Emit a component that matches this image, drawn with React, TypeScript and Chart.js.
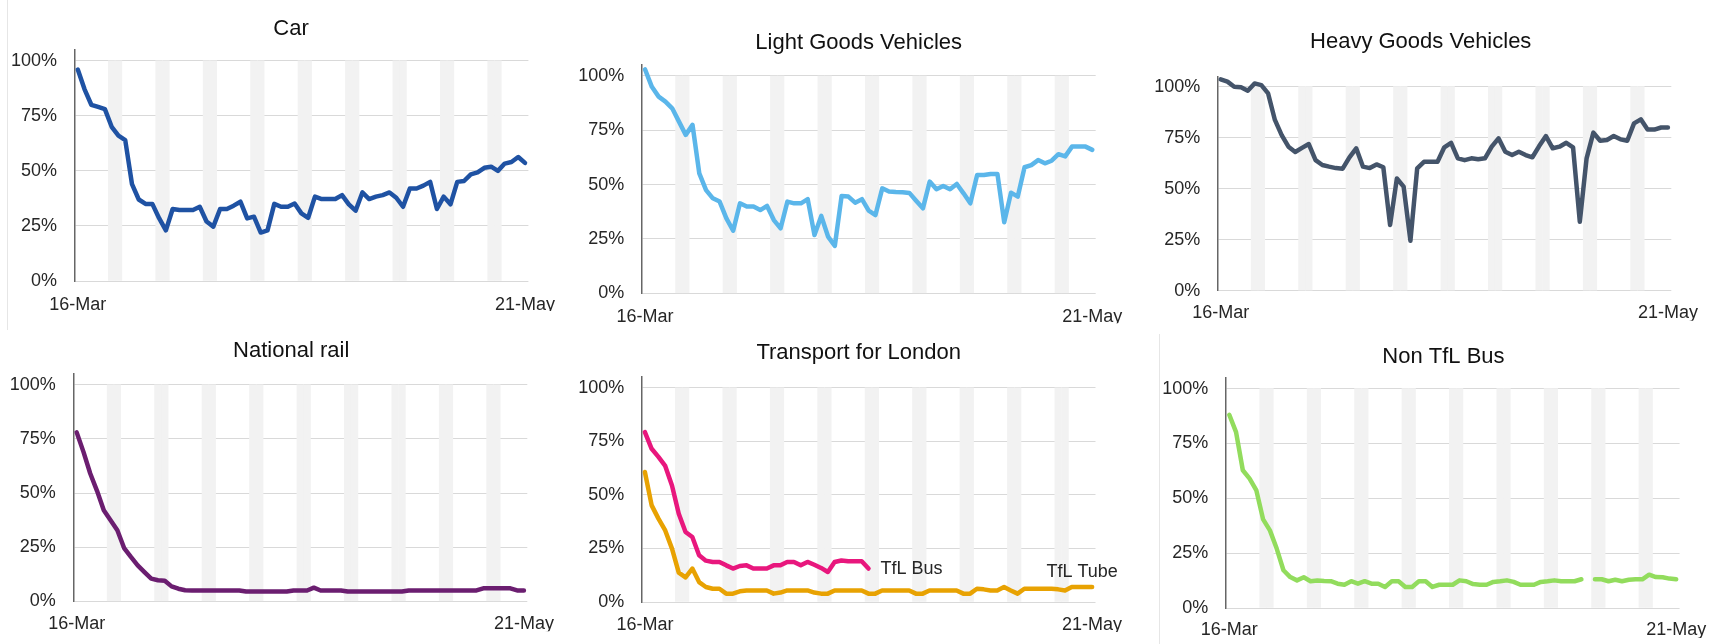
import { useEffect, useRef } from 'react';
import { Chart, registerables } from 'chart.js';

Chart.register(...registerables);

const FONT = '"Liberation Sans", Arial, Helvetica, sans-serif';
const TITLE_FS = 22;
const TICK_FS = 18;

const DATES = [
  '16-Mar', '17-Mar', '18-Mar', '19-Mar', '20-Mar', '21-Mar', '22-Mar', '23-Mar', '24-Mar', '25-Mar',
  '26-Mar', '27-Mar', '28-Mar', '29-Mar', '30-Mar', '31-Mar',
  '1-Apr', '2-Apr', '3-Apr', '4-Apr', '5-Apr', '6-Apr', '7-Apr', '8-Apr', '9-Apr', '10-Apr',
  '11-Apr', '12-Apr', '13-Apr', '14-Apr', '15-Apr', '16-Apr', '17-Apr', '18-Apr', '19-Apr', '20-Apr',
  '21-Apr', '22-Apr', '23-Apr', '24-Apr', '25-Apr', '26-Apr', '27-Apr', '28-Apr', '29-Apr', '30-Apr',
  '1-May', '2-May', '3-May', '4-May', '5-May', '6-May', '7-May', '8-May', '9-May', '10-May',
  '11-May', '12-May', '13-May', '14-May', '15-May', '16-May', '17-May', '18-May', '19-May', '20-May',
  '21-May',
];

const Y_TICKS = [0, 25, 50, 75, 100];

// 1 = Saturday / Sunday (shaded band)
const WEEKEND = [
  0, 0, 0, 0, 0, 1, 1,
  0, 0, 0, 0, 0, 1, 1,
  0, 0, 0, 0, 0, 1, 1,
  0, 0, 0, 0, 0, 1, 1,
  0, 0, 0, 0, 0, 1, 1,
  0, 0, 0, 0, 0, 1, 1,
  0, 0, 0, 0, 0, 1, 1,
  0, 0, 0, 0, 0, 1, 1,
  0, 0, 0, 0, 0, 1, 1,
  0, 0, 0, 0,
];
const BAND_TOP = 100;

const CAR = [96, 87, 80, 79, 78, 70, 66, 64, 44, 37, 35, 35, 28.5, 23, 32.7, 32.2, 32.2, 32.2, 33.7, 27,
  24.7, 32.7, 32.7, 34.2, 36, 28.4, 29.2, 22, 23, 35, 33.7, 33.7, 35.2, 30.7, 28.7, 38.3, 37.2, 37.2, 37.2, 39,
  34.8, 31.9, 40.2, 37.2, 38.3, 39, 40.2, 37.8, 33.7, 42, 42, 43.3, 45, 32.7, 38.3, 34.8, 45, 45.4, 48.4, 49.3,
  51.4, 51.9, 50, 53.3, 54, 56.3, 53.6];

const LGV = [103, 95, 90.5, 88.2, 85.1, 79, 72.9, 77.5, 55.2, 47.5, 43.7, 42.2, 34.5, 28.8, 41.4, 39.9, 39.9, 38.3, 40.2, 33.7,
  29.9, 42.2, 41.4, 41.4, 43.3, 26.8, 35.6, 26.1, 21.8, 44.8, 44.5, 41.7, 43.3, 38, 36, 48.3, 46.8, 46.6, 46.5, 46.2,
  42.6, 39.1, 51.4, 47.9, 49.4, 47.9, 50.3, 46, 41.4, 54.4, 54.4, 54.9, 54.9, 32.7, 46.3, 44.5, 58, 59, 61.3, 59.8,
  61, 64, 63, 67.5, 67.5, 67.5, 66];

const HGV = [103.6, 102.5, 100, 99.7, 98, 101.6, 100.8, 96.7, 83.7, 76.3, 70.6, 68, 70, 71.9, 64, 61.6, 60.8, 60.1, 59.8, 65.4,
  69.8, 60.8, 60.1, 61.9, 60.5, 32.2, 55, 51, 24.5, 60, 63.2, 63.2, 63.2, 70.3, 72.5, 64.9, 64, 64.9, 64.4, 64.9,
  70.6, 74.7, 68.1, 66.5, 68.1, 66.5, 65.4, 70.9, 75.8, 69.8, 70.6, 72.5, 70.3, 33.8, 64.9, 77.5, 73.5, 73.9, 75.8, 74.2,
  73.5, 82, 84, 79, 79, 80, 80];

const RAIL = [78, 69, 59, 51, 42, 37.4, 32.8, 24.6, 20.5, 16.6, 13.5, 10.5, 9.7, 9.5, 6.9, 5.8, 5.1, 5, 5, 5,
  5, 5, 5, 5, 5, 4.5, 4.5, 4.5, 4.5, 4.5, 4.5, 4.5, 5, 5, 5, 6.3, 5, 5, 5, 5,
  4.5, 4.5, 4.5, 4.5, 4.5, 4.5, 4.5, 4.5, 4.5, 5, 5, 5, 5, 5, 5, 5, 5, 5, 5, 5,
  6, 6, 6, 6, 6, 5, 5];

const TFL_BUS = [79.3, 71.5, 67.7, 63.5, 54.4, 41.2, 32.7, 30.3, 21.8, 19.3, 18.7, 18.7, 17.1, 15.6, 16.8, 17.1, 15.6, 15.6, 15.6, 17.1,
  17.1, 18.7, 18.7, 17.1, 18.7, 17.4, 15.9, 14, 18.7, 19.4, 19, 19, 19, 15.6,
  null, null, null, null, null, null, null, null, null, null, null, null, null, null, null, null, null, null, null, null,
  null, null, null, null, null, null, null, null, null, null, null, null, null];

const TFL_TUBE = [60.7, 45.1, 38.9, 33.4, 24.9, 13.7, 11.5, 15.6, 9.3, 7, 6.2, 6.2, 3.9, 3.9, 5, 5.4, 5.4, 5.4, 5.4, 3.9,
  4.4, 5.4, 5.4, 5.4, 5.4, 4.4, 3.9, 3.9, 5.4, 5.4, 5.4, 5.4, 5.4, 3.9, 3.9, 5.4, 5.4, 5.4, 5.4, 5.4,
  3.9, 3.9, 5.4, 5.4, 5.4, 5.4, 5.4, 3.9, 3.9, 6.2, 5.9, 5.4, 5.4, 7, 5.4, 3.9, 6.2, 6.2, 6.2, 6.2,
  6.2, 5.9, 5.4, 7, 7, 7, 7];

const NON_TFL_BUS = [88.1, 80.2, 62.8, 59, 53.6, 40.4, 35.4, 27.1, 17.2, 14.1, 12.6, 14, 12.2, 12.5, 12.3, 12.2, 11.1, 10.6, 12.2, 11.1,
  12.2, 11.1, 11.1, 9.6, 12.2, 12.2, 9.6, 9.6, 12.2, 12.2, 9.6, 10.6, 10.6, 10.6, 12.6, 12.2, 10.9, 10.6, 10.6, 11.9,
  12.2, 12.6, 11.9, 10.6, 10.6, 10.6, 11.9, 12.2, 12.6, 12.2, 12.2, 12.2, 13.1, null, 13.1, 13.1, 12.2, 12.9, 12.2, 12.9,
  13.1, 13.1, 15.2, 14.1, 14, 13.4, 13.1];

type EndLabel = { text: string; dx: number; dy: number; align: CanvasTextAlign };
type LineSpec = { label: string; data: (number | null)[]; color: string; endLabel?: EndLabel };
type PanelSpec = {
  title: string;
  lines: LineSpec[];
  px: number; py: number; W: number; H: number;
  L: number; R: number; T: number; B: number;
  tx: number; ty: number; xly: number; ylr: number;
};

const PANELS: PanelSpec[] = [
  {
    title: 'Car', lines: [{ label: 'Car', data: CAR, color: '#1f52a3' }],
    px: 0, py: 0, W: 573, H: 340,
    L: 74.4, R: 528.4, T: 49.7, B: 281, tx: 291, ty: 29, xly: 305, ylr: 57,
  },
  {
    title: 'Light Goods Vehicles', lines: [{ label: 'Light Goods Vehicles', data: LGV, color: '#5bb6ea' }],
    px: 573, py: 0, W: 573, H: 340,
    L: 641.7, R: 1095.7, T: 65.1, B: 293.3, tx: 858.7, ty: 43.3, xly: 317, ylr: 624.3,
  },
  {
    title: 'Heavy Goods Vehicles', lines: [{ label: 'Heavy Goods Vehicles', data: HGV, color: '#44546a' }],
    px: 1146, py: 0, W: 572, H: 340,
    L: 1217.3, R: 1671.3, T: 76.5, B: 290.7, tx: 1420.7, ty: 41.7, xly: 313, ylr: 1200.2,
  },
  {
    title: 'National rail', lines: [{ label: 'National rail', data: RAIL, color: '#6b1e70' }],
    px: 0, py: 322, W: 573, H: 322,
    L: 73.3, R: 527.3, T: 373.9, B: 601.3, tx: 291.2, ty: 351.3, xly: 623.7, ylr: 55.7,
  },
  {
    title: 'Transport for London',
    lines: [
      { label: 'TfL Bus', data: TFL_BUS, color: '#e8177d', endLabel: { text: 'TfL Bus', dx: 12, dy: 0, align: 'left' } },
      { label: 'TfL Tube', data: TFL_TUBE, color: '#e8a202', endLabel: { text: 'TfL Tube', dx: -10, dy: -15, align: 'center' } },
    ],
    px: 573, py: 322, W: 573, H: 322,
    L: 641.5, R: 1095.5, T: 377, B: 602, tx: 858.7, ty: 352.7, xly: 625.3, ylr: 624.3,
  },
  {
    title: 'Non TfL Bus', lines: [{ label: 'Non TfL Bus', data: NON_TFL_BUS, color: '#92dc5d' }],
    px: 1146, py: 322, W: 572, H: 322,
    L: 1225.9, R: 1679.9, T: 377.7, B: 608, tx: 1443.4, ty: 357, xly: 630.3, ylr: 1208.3,
  },
];

function PanelChart({ spec }: { spec: PanelSpec }) {
  const ref = useRef<HTMLCanvasElement>(null);

  useEffect(() => {
    const p = spec;
    const L = p.L - p.px;
    const R = p.R - p.px;
    const T = p.T - p.py;
    const B = p.B - p.py;
    const tx = p.tx - p.px;
    const ty = p.ty - p.py;
    const pr = p.W - R;
    const yAxisW = L;
    const xAxisH = 30;
    const pb = p.H - B - xAxisH;
    const xTickPad = (p.xly - p.py) - B - TICK_FS * 0.6;
    const yTickPad = L - (p.ylr - p.px);

    const panelTitle = {
      id: 'panelTitle',
      afterDraw(chart: any) {
        const ctx = chart.ctx;
        ctx.save();
        ctx.font = `${TITLE_FS}px ${FONT}`;
        ctx.fillStyle = '#111111';
        ctx.textAlign = 'center';
        ctx.textBaseline = 'middle';
        ctx.fillText(p.title, tx, ty);
        ctx.restore();
      },
    };

    const endLabels = {
      id: 'endLabels',
      afterDatasetsDraw(chart: any) {
        const ctx = chart.ctx;
        p.lines.forEach((ln, di) => {
          if (!ln.endLabel) return;
          const meta = chart.getDatasetMeta(di);
          let last = -1;
          ln.data.forEach((v, i) => { if (v !== null) last = i; });
          if (last < 0) return;
          const pt0 = meta.data[last];
          ctx.save();
          ctx.font = `${TICK_FS}px ${FONT}`;
          ctx.fillStyle = '#262626';
          ctx.textAlign = ln.endLabel.align;
          ctx.textBaseline = 'middle';
          ctx.fillText(ln.endLabel.text, pt0.x + ln.endLabel.dx, pt0.y + ln.endLabel.dy);
          ctx.restore();
        });
      },
    };

    const band = WEEKEND.map((w) => (w ? BAND_TOP : null));

    const chart = new Chart(ref.current as HTMLCanvasElement, {
      type: 'line',
      data: {
        labels: DATES,
        datasets: [
          ...p.lines.map((l) => ({
            type: 'line' as const,
            label: l.label,
            data: l.data,
            borderColor: l.color,
            backgroundColor: l.color,
            borderWidth: 4.5,
            pointRadius: 0,
            pointHoverRadius: 0,
            tension: 0,
            borderJoinStyle: 'round' as const,
            borderCapStyle: 'round' as const,
            spanGaps: false,
            fill: false,
            order: 0,
          })),
          {
            type: 'bar' as const,
            label: 'Weekend',
            data: band,
            backgroundColor: '#f2f2f2',
            borderWidth: 0,
            barPercentage: 1,
            categoryPercentage: 1,
            order: 1,
          } as any,
        ],
      },
      options: {
        responsive: false,
        animation: false,
        events: [],
        layout: { padding: { left: 0, right: pr, top: T, bottom: pb } },
        plugins: {
          legend: { display: false },
          tooltip: { enabled: false },
          title: { display: false },
        },
        scales: {
          x: {
            type: 'category',
            offset: true,
            grid: { display: false, drawTicks: false },
            border: { display: false },
            ticks: {
              autoSkip: false,
              maxRotation: 0,
              minRotation: 0,
              padding: xTickPad,
              color: '#262626',
              font: { family: FONT, size: TICK_FS },
              callback: (_v: any, i: number) => (i === 0 || i === DATES.length - 1 ? DATES[i] : ''),
            },
            afterFit: (a: any) => { a.height = xAxisH; },
          },
          y: {
            min: 0,
            max: 105,
            afterBuildTicks: (a: any) => { a.ticks = Y_TICKS.map((v) => ({ value: v })); },
            ticks: {
              padding: yTickPad,
              color: '#262626',
              font: { family: FONT, size: TICK_FS },
              callback: (v: any) => `${v}%`,
            },
            grid: { color: '#d9d9d9', lineWidth: 1, drawTicks: false },
            border: { display: true, color: '#666666', width: 1.5 },
            afterFit: (a: any) => { a.width = yAxisW; },
          },
        },
      } as any,
      plugins: [endLabels, panelTitle],
    });
    return () => chart.destroy();
  }, [spec]);

  return (
    <canvas
      ref={ref}
      width={spec.W}
      height={spec.H}
      style={{ position: 'absolute', left: spec.px, top: spec.py, width: spec.W, height: spec.H }}
    />
  );
}

export default function App() {
  return (
    <div style={{ position: 'absolute', left: 0, top: 0, width: 1718, height: 644, background: '#ffffff', overflow: 'hidden' }}>
      <div style={{ position: 'absolute', left: 7, top: 0, width: 1, height: 330, background: '#e6e6e6' }} />
      <div style={{ position: 'absolute', left: 1159, top: 334, width: 1, height: 310, background: '#e6e6e6' }} />
      {PANELS.map((p) => (
        <PanelChart key={p.title} spec={p} />
      ))}
    </div>
  );
}
